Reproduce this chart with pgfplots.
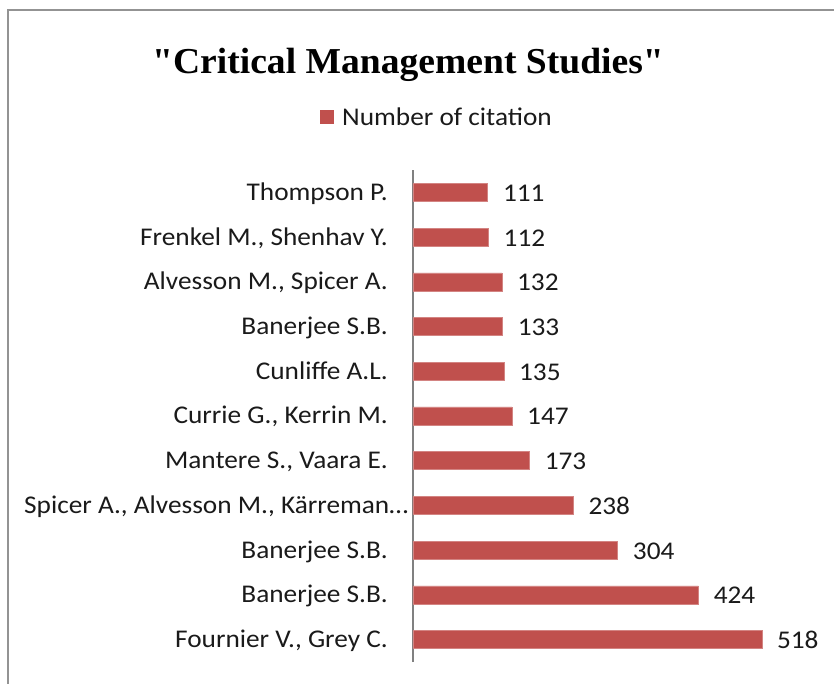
\documentclass[border=0pt]{standalone}
\usepackage{pgfplots}
\pgfplotsset{compat=1.18}
\usepackage{fontspec}
\setmainfont{Carlito}
\newfontfamily\titlefont{Liberation Serif}
\usetikzlibrary{calc}
\definecolor{barred}{HTML}{C0504D}
\definecolor{txt}{HTML}{1A1A1A}
\begin{document}
\begin{tikzpicture}
\begin{axis}[
  name=ax,
  scale only axis, width=404bp, height=492bp,
  xbar, bar width=18bp,
  xmin=0, xmax=600, ymin=-0.5, ymax=10.5,
  axis x line=none,
  axis y line*=left,
  y axis line style={draw=gray, line width=1.5bp},
  ytick={0,1,2,3,4,5,6,7,8,9,10},
  yticklabels={{Fournier V., Grey C.}, {Banerjee S.B.}, {Banerjee S.B.}, {Spicer A., Alvesson M., Kärreman\ldots\hspace*{-19bp}}, {Mantere S., Vaara E.}, {Currie G., Kerrin M.}, {Cunliffe A.L.}, {Banerjee S.B.}, {Alvesson M., Spicer A.}, {Frenkel M., Shenhav Y.}, {Thompson P.}},
  major tick length=0pt,
  yticklabel style={font=\fontsize{25.5bp}{28bp}\selectfont, text=txt, anchor=base east, inner sep=0, xshift=-25bp, yshift=-8bp, xscale=1.07},
  nodes near coords,
  nodes near coords style={font=\fontsize{25.5bp}{28bp}\selectfont, text=txt, anchor=base west, inner sep=0, xshift=15bp, yshift=-9bp, xscale=1.07},
  /pgf/number format/assume math mode=true,
  clip=false,
]
\addplot[fill=barred, draw=barred!70!white, line width=0.5bp] coordinates {
(518,0) (424,1) (304,2) (238,3) (173,4) (147,5) (135,6) (133,7) (132,8) (112,9) (111,10)
};
\coordinate (O) at (axis cs:0,-0.5);
\end{axis}
\coordinate (BL) at ($(O)+(-413bp,-22bp)$);
\pgfresetboundingbox
\useasboundingbox (BL) rectangle ++(834bp,684bp);
\begin{scope}[shift={(BL)}, x=1bp, y=1bp]
\draw[color=gray!85, line width=2bp] (8,-10) -- (8,674) -- (850,674);
\node[anchor=base, font=\titlefont\bfseries\fontsize{36.5bp}{40bp}\selectfont, text=black, inner sep=0, xscale=1.03] at (408,610) {"Critical Management Studies"};
\fill[barred] (320,560) rectangle (334,574);
\node[anchor=base west, font=\fontsize{25.5bp}{28bp}\selectfont, text=txt, inner sep=0, xscale=1.07] at (342,559) {Number of citation};
\end{scope}
\end{tikzpicture}
\end{document}
